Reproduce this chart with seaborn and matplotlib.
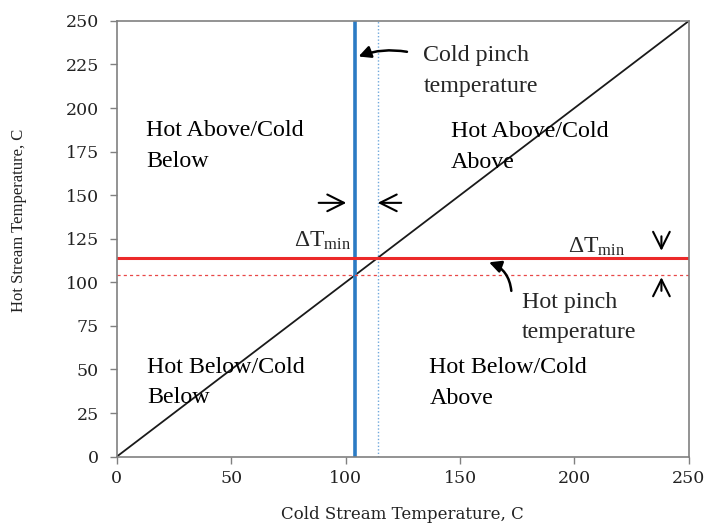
import matplotlib
matplotlib.use("Agg")
import matplotlib.pyplot as plt
import seaborn as sns
import numpy as np
import pandas as pd

# Data
diag_x = [0, 250]
diag_y = [0, 250]
cold_pinch = 104
hot_pinch = 114
cold_shifted = 114   # cold pinch + dTmin
hot_shifted = 104    # hot pinch - dTmin
ticks = [0, 25, 50, 75, 100, 125, 150, 175, 200, 225, 250]
xticks = [0, 50, 100, 150, 200, 250]

region_labels = ["Hot Above/Cold\nBelow", "Hot Above/Cold\nAbove",
                 "Hot Below/Cold\nBelow", "Hot Below/Cold\nAbove"]
region_x = [12.8, 146, 13.1, 136.6]
region_y = [166.3, 165.6, 30.6, 30.2]   # baseline of last line

sns.set_theme(style="white")
plt.rcParams['font.family'] = ['Liberation Serif', 'DejaVu Serif']
plt.rcParams['mathtext.fontset'] = 'custom'
plt.rcParams['mathtext.rm'] = 'Liberation Serif'
plt.rcParams['mathtext.it'] = 'Liberation Serif:italic'

fig = plt.figure(figsize=(7.08, 5.23), dpi=100)
ax = fig.add_axes([0.165, 0.127, 0.808, 0.833])

df = pd.DataFrame({"x": diag_x, "y": diag_y})
sns.lineplot(data=df, x="x", y="y", ax=ax, color="#1a1a1a", lw=1.3)

ax.axvline(cold_pinch, color="#2b7bc4", lw=2.6)
ax.axvline(cold_shifted, color="#6fa8dc", lw=1.0, ls=(0, (1, 1.5)))
ax.axhline(hot_pinch, color="#ec2a2a", lw=2.2)
ax.axhline(hot_shifted, color="#e84848", lw=0.9, ls=(0, (2.5, 2.5)))

ax.set_xlim(0, 250)
ax.set_ylim(0, 250)
ax.set_xticks(xticks)
ax.set_yticks(ticks)
tick_font = dict(family='DejaVu Serif', size=12.5)
ax.set_xticklabels([str(t) for t in xticks], fontdict=tick_font)
ax.set_yticklabels([str(t) for t in ticks], fontdict=tick_font)
ax.tick_params(axis='both', which='both', direction='out', length=5, width=1,
               color='#808080', labelcolor='#222222', bottom=True, left=True)
ax.tick_params(axis='x', pad=5)
ax.tick_params(axis='y', pad=8)
for s in ax.spines.values():
    s.set_color('#808080')
    s.set_linewidth(1.2)

ax.set_xlabel("Cold Stream Temperature, C", fontsize=12, family='DejaVu Serif', color='#222222')
ax.xaxis.set_label_coords(0.5, -0.113)
ax.set_ylabel("Hot Stream Temperature, C", fontsize=12, color='#222222')
ax.yaxis.set_label_coords(-0.157, 0.543)

for lab, x, y in zip(region_labels, region_x, region_y):
    ax.text(x, y, lab, fontsize=17.3, va='baseline', ha='left', linespacing=1.6, color='black')

ax.text(134, 209.3, "Cold pinch\ntemperature", fontsize=17.3, va='baseline', ha='left', linespacing=1.6)
ax.text(177, 67.9, "Hot pinch\ntemperature", fontsize=17.3, va='baseline', ha='left', linespacing=1.6)

# Curved arrows
ax.annotate("", xy=(104.5, 229), xytext=(128, 232),
            arrowprops=dict(arrowstyle="-|>", color='black', lw=1.8,
                            connectionstyle="arc3,rad=0.15", mutation_scale=18))
ax.annotate("", xy=(161.5, 112), xytext=(172.5, 93.5),
            arrowprops=dict(arrowstyle="-|>", color='black', lw=1.8,
                            connectionstyle="arc3,rad=0.35", mutation_scale=18))

# dT min labels
ax.text(102.6, 120.2, r"$\Delta$T$_{\mathrm{min}}$", fontsize=17, ha='right', va='baseline')
ax.text(197.3, 117.2, r"$\Delta$T$_{\mathrm{min}}$", fontsize=17, ha='left', va='baseline')

# dT min arrows
arrow_kw = dict(arrowstyle="->", color='black', lw=1.5, mutation_scale=30)
ax.annotate("", xy=(101.5, 145.6), xytext=(87, 145.6), arrowprops=arrow_kw)
ax.annotate("", xy=(112.8, 145.6), xytext=(125.5, 145.6), arrowprops=arrow_kw)
ax.annotate("", xy=(238, 116.5), xytext=(238, 128), arrowprops=arrow_kw)
ax.annotate("", xy=(238, 104.5), xytext=(238, 93.5), arrowprops=arrow_kw)

fig.savefig("out.png", dpi=100)
